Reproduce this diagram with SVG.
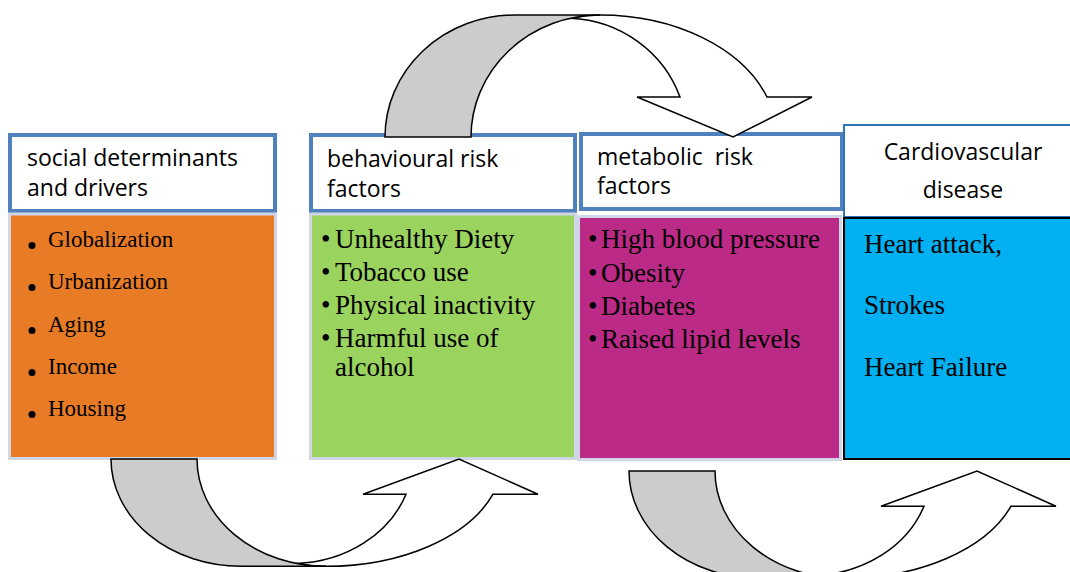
<svg xmlns="http://www.w3.org/2000/svg" width="1070" height="572" viewBox="0 0 1070 572">
<style>
.hdr{fill:#fff;stroke:#4F81BD;stroke-width:4}
.body{stroke:#D0D6E6;stroke-width:3}
.ht{font-family:"Open Sans","Liberation Sans",Arial,sans-serif;font-size:23px;fill:#000;white-space:pre}
.st{font-family:"Liberation Serif","Times New Roman",serif;font-size:23px;fill:#000}
.bt{font-family:"Liberation Serif","Times New Roman",serif;font-size:27px;fill:#000}
.back{fill:#CCCCCC;stroke:#000;stroke-width:1.5;vector-effect:non-scaling-stroke}
.front{fill:#FFFFFF;stroke:#000;stroke-width:1.5;vector-effect:non-scaling-stroke}
</style>
<defs>
<g id="curvedArrow">
<path class="front" d="M185.5,-118.8 A122,119 0 0 1 295,-40 L252,-40 L348,0 L427,-40 L382,-40 A177,122 0 0 0 215,-122 A129,122 0 0 0 185.5,-118.8 Z"/>
<path class="back" d="M0,0 A130,122 0 0 1 130,-122 L215,-122 A129,122 0 0 0 86,0 Z"/>
</g>
</defs>
<rect width="1070" height="572" fill="#fff"/>

<g id="social">
<rect class="hdr" x="10" y="135" width="265" height="76"/>
<rect class="body" x="9.5" y="214" width="266" height="244.5" fill="#E87B25"/>
<text class="ht" x="27" y="166">social determinants</text>
<text class="ht" x="27" y="196">and drivers</text>
<circle cx="32" cy="245.5" r="3.5"/><text class="st" x="48" y="247">Globalization</text>
<circle cx="32" cy="287.5" r="3.5"/><text class="st" x="48" y="289">Urbanization</text>
<circle cx="32" cy="330.5" r="3.5"/><text class="st" x="48" y="332">Aging</text>
<circle cx="32" cy="372.5" r="3.5"/><text class="st" x="48" y="374">Income</text>
<circle cx="32" cy="414.5" r="3.5"/><text class="st" x="48" y="416">Housing</text>
</g>

<g id="behavioural">
<rect class="hdr" x="311" y="135" width="264" height="76"/>
<rect class="body" x="310.5" y="214" width="265" height="244.5" fill="#9BD35F"/>
<text class="ht" x="327" y="167">behavioural risk</text>
<text class="ht" x="327" y="197">factors</text>
<text class="bt" x="321" y="248">•</text><text class="bt" x="335" y="248">Unhealthy Diety</text>
<text class="bt" x="321" y="281">•</text><text class="bt" x="335" y="281">Tobacco use</text>
<text class="bt" x="321" y="314">•</text><text class="bt" x="335" y="314">Physical inactivity</text>
<text class="bt" x="321" y="347">•</text><text class="bt" x="335" y="347">Harmful use of</text>
<text class="bt" x="335" y="376">alcohol</text>
</g>

<g id="metabolic">
<rect class="hdr" x="581" y="134" width="261" height="75"/>
<rect class="body" x="578.5" y="216.5" width="262" height="243" fill="#BB2A86"/>
<text class="ht" x="597" y="165">metabolic  risk</text>
<text class="ht" x="597" y="194">factors</text>
<text class="bt" x="588" y="248">•</text><text class="bt" x="601" y="248">High blood pressure</text>
<text class="bt" x="588" y="282">•</text><text class="bt" x="601" y="282">Obesity</text>
<text class="bt" x="588" y="315">•</text><text class="bt" x="601" y="315">Diabetes</text>
<text class="bt" x="588" y="348">•</text><text class="bt" x="601" y="348">Raised lipid levels</text>
</g>

<g id="cvd">
<rect x="844" y="125" width="240" height="92" fill="#fff" stroke="#2E75B6" stroke-width="2"/>
<rect x="844" y="218" width="240" height="241" fill="#00B0F0" stroke="#000" stroke-width="2"/>
<text class="ht" x="963" y="160" text-anchor="middle">Cardiovascular</text>
<text class="ht" x="963" y="198" text-anchor="middle">disease</text>
<text class="bt" x="864" y="253">Heart attack,</text>
<text class="bt" x="864" y="314">Strokes</text>
<text class="bt" x="864" y="376">Heart Failure</text>
</g>

<g id="connectors">
<use href="#curvedArrow" transform="translate(385,137)"/>
<use href="#curvedArrow" transform="translate(111,459) scale(1,-0.88)"/>
<use href="#curvedArrow" transform="translate(629,471) scale(1,-0.88)"/>
</g>
</svg>
